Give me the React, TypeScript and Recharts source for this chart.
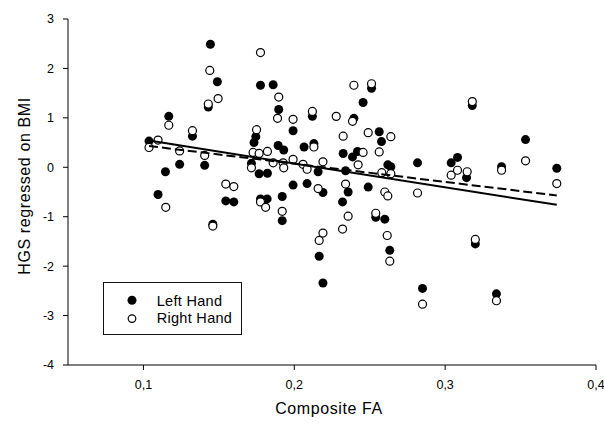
import React from 'react';
import { ScatterChart, Scatter, XAxis, YAxis, Legend } from 'recharts';

// Left Hand (filled circles)
const leftFA = [0.1037, 0.1097, 0.1146, 0.1168, 0.124, 0.1325, 0.1406, 0.143, 0.1444, 0.146, 0.149, 0.1546, 0.1599, 0.1716, 0.1733, 0.1745, 0.1767, 0.1776, 0.1776, 0.182, 0.1822, 0.186, 0.1893, 0.1897, 0.192, 0.192, 0.193, 0.1992, 0.1992, 0.2065, 0.2085, 0.212, 0.213, 0.2158, 0.2165, 0.219, 0.219, 0.232, 0.2324, 0.234, 0.2357, 0.2386, 0.2395, 0.2419, 0.2456, 0.249, 0.2512, 0.254, 0.2563, 0.2578, 0.26, 0.262, 0.2633, 0.264, 0.2817, 0.285, 0.304, 0.3082, 0.3142, 0.318, 0.32, 0.334, 0.3374, 0.3533, 0.374];
const leftHGS = [0.53, -0.55, -0.09, 1.03, 0.06, 0.63, 0.04, 1.22, 2.49, -1.15, 1.73, -0.68, -0.7, 0.08, 0.5, 0.62, -0.13, 1.66, -0.64, -0.64, -0.12, 1.67, 0.44, 1.17, -0.59, -1.08, 0.35, 0.74, -0.36, 0.41, -0.33, 1.03, 0.48, -0.09, -1.8, -0.51, -2.34, -0.7, 0.28, -0.07, -0.5, 0.21, 0.99, 0.32, 1.31, -0.4, 1.6, -1.01, 0.72, 0.52, -1.05, 0.05, -1.68, 0.01, 0.09, -2.45, 0.09, 0.2, -0.21, 1.25, -1.55, -2.56, 0.01, 0.56, -0.02];

// Right Hand (open circles)
const rightFA = [0.1037, 0.1097, 0.1148, 0.1168, 0.124, 0.1325, 0.1406, 0.143, 0.144, 0.146, 0.1495, 0.1546, 0.1599, 0.1716, 0.1727, 0.175, 0.1767, 0.1776, 0.1776, 0.181, 0.1822, 0.186, 0.1889, 0.1897, 0.192, 0.1926, 0.193, 0.1992, 0.1992, 0.2058, 0.2085, 0.212, 0.213, 0.2158, 0.2165, 0.219, 0.219, 0.2278, 0.232, 0.2324, 0.234, 0.2357, 0.2386, 0.2395, 0.2423, 0.2456, 0.249, 0.2512, 0.254, 0.2563, 0.258, 0.26, 0.2616, 0.262, 0.2633, 0.264, 0.264, 0.2817, 0.285, 0.304, 0.3082, 0.3146, 0.318, 0.32, 0.334, 0.3374, 0.3533, 0.374];
const rightHGS = [0.4, 0.55, -0.81, 0.85, 0.33, 0.74, 0.24, 1.28, 1.96, -1.19, 1.39, -0.34, -0.39, -0.01, 0.3, 0.76, 0.28, 2.32, -0.7, -0.81, 0.32, 0.09, 0.99, 1.42, -0.89, 0.09, -0.01, 0.97, 0.16, 0.06, -0.04, 1.13, 0.41, -0.43, -1.48, 0.11, -1.33, 1.03, -1.25, 0.63, -0.34, -0.99, 0.93, 1.66, 0.05, 0.3, 0.7, 1.69, -0.93, 0.31, -0.11, -0.5, -1.38, -0.58, -1.9, 0.62, -0.13, -0.52, -2.77, -0.16, -0.06, -0.09, 1.33, -1.46, -2.7, -0.06, 0.13, -0.33];

// Regression lines (endpoints)
const fitFA = [0.1037, 0.374];
const leftFit = [0.54, -0.76];
const rightFit = [0.43, -0.57];

const xTicks = [0.1, 0.2, 0.3, 0.4];
const yTicks = [-4, -3, -2, -1, 0, 1, 2, 3];
const seriesNames = ['Left Hand', 'Right Hand'];

const zip = (xs: number[], ys: number[]) => xs.map((x, i) => ({ x, y: ys[i] }));
const leftData = zip(leftFA, leftHGS);
const rightData = zip(rightFA, rightHGS);
const leftLine = zip(fitFA, leftFit);
const rightLine = zip(fitFA, rightFit);

const FONT = 'Arial, "Liberation Sans", Helvetica, sans-serif';

const Filled = (p: any) => <circle cx={p.cx} cy={p.cy} r={4.5} fill="#000" />;
const Open = (p: any) => <circle cx={p.cx} cy={p.cy} r={4} fill="#fff" stroke="#000" strokeWidth={1.2} />;
const NoShape = () => <g />;

const LegendBox = () => (
  <div style={{ width: 137, height: 51, border: '1px solid #111', background: '#fff', boxSizing: 'content-box' }}>
    <svg width={137} height={51} style={{ display: 'block' }}>
      <circle cx={28} cy={17.3} r={4.5} fill="#000" />
      <circle cx={28} cy={35.6} r={3.8} fill="#fff" stroke="#000" strokeWidth={1.2} />
      <text x={52.7} y={22.6} fontFamily={FONT} fontSize={14.5} letterSpacing={0.3} fill="#000">{seriesNames[0]}</text>
      <text x={52.7} y={40} fontFamily={FONT} fontSize={14.5} letterSpacing={0.3} fill="#000">{seriesNames[1]}</text>
    </svg>
  </div>
);

const YTitle = () => (
  <text x={29.5} y={186} transform="rotate(-90, 29.5, 186)" textAnchor="middle" fontFamily={FONT} fontSize={16} letterSpacing={0.6} fill="#000">
    HGS regressed on BMI
  </text>
);

const XTitle = () => (
  <text x={329} y={413.5} textAnchor="middle" fontFamily={FONT} fontSize={16} letterSpacing={0.6} fill="#000">
    Composite FA
  </text>
);

export default function App() {
  return (
    <div style={{ position: 'absolute', left: 0, top: 0, background: '#fff' }}>
      <ScatterChart width={604} height={423} margin={{ top: 19, right: 8, bottom: 0, left: 0 }}>
        <XAxis
          type="number"
          dataKey="x"
          domain={[0.05, 0.4]}
          ticks={xTicks}
          height={58}
          tickSize={5}
          tickMargin={10}
          axisLine={{ stroke: '#000', strokeWidth: 1 }}
          tickLine={{ stroke: '#000' }}
          tick={{ fill: '#000', fontSize: 12.5, fontFamily: FONT }}
          tickFormatter={(v: number) => String(v).replace('.', ',')}
          label={<XTitle />}
        />
        <YAxis
          type="number"
          dataKey="y"
          domain={[-4, 3]}
          ticks={yTicks}
          width={68}
          tickSize={5}
          tickMargin={9}
          axisLine={{ stroke: '#000', strokeWidth: 1 }}
          tickLine={{ stroke: '#000' }}
          tick={{ fill: '#000', fontSize: 12.5, fontFamily: FONT }}
          label={<YTitle />}
        />
        <Legend
          layout="horizontal"
          verticalAlign="middle"
          align="center"
          content={() => <LegendBox />}
          wrapperStyle={{ left: 103, top: 282, width: 139, height: 53 }}
        />
        <Scatter name={seriesNames[0]} data={leftData} shape={Filled} isAnimationActive={false} />
        <Scatter name={seriesNames[1]} data={rightData} shape={Open} isAnimationActive={false} />
        <Scatter
          data={leftLine}
          line={{ stroke: '#000', strokeWidth: 2 }}
          shape={NoShape}
          legendType="none"
          isAnimationActive={false}
        />
        <Scatter
          data={rightLine}
          line={{ stroke: '#000', strokeWidth: 2, strokeDasharray: '9 4' }}
          shape={NoShape}
          legendType="none"
          isAnimationActive={false}
        />
      </ScatterChart>
    </div>
  );
}
